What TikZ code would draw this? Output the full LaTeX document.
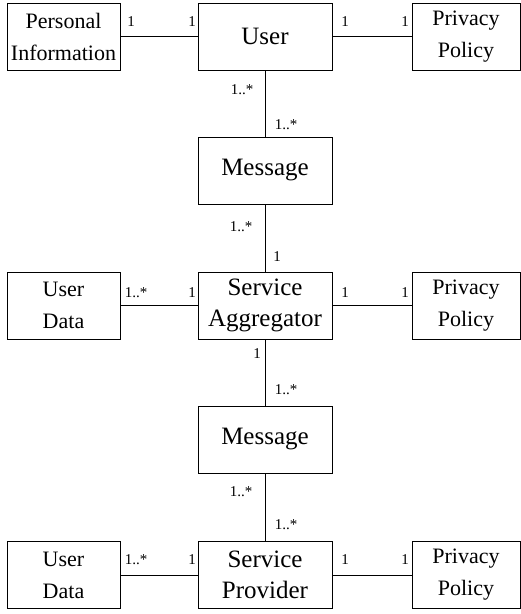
\documentclass[tikz,border=0pt]{standalone}
\usepackage{fontspec}
\setmainfont{Liberation Serif}
\begin{document}
\begin{tikzpicture}[x=1pt,y=-1pt,
  line width=0.9pt,
  mainbox/.style={draw, minimum width=134pt, minimum height=67pt, inner sep=0pt,
    align=center, font=\fontsize{25}{31}\selectfont},
  sidebox/.style={draw, minimum height=67pt, inner sep=0pt,
    align=center, font=\fontsize{22}{32}\selectfont},
  mult/.style={inner sep=0pt, font=\fontsize{15}{18}\selectfont}]
\useasboundingbox (0,0) rectangle (521,614);

% class boxes
\node[sidebox, minimum width=113pt] (pinfo) at (63.5,36.5) {Personal\\Information};
\node[mainbox] (user) at (265,36.5) {User};
\node[sidebox, minimum width=108pt] (pp1) at (466,36.5) {Privacy\\Policy};

\node[mainbox] (msg1) at (265,170.5) {Message};

\node[sidebox, minimum width=113pt] (ud1) at (63.5,305.5) {User\\Data};
\node[mainbox] (agg) at (265,305.5) {Service\\Aggregator};
\node[sidebox, minimum width=108pt] (pp2) at (466,305.5) {Privacy\\Policy};

\node[mainbox] (msg2) at (265,439.5) {Message};

\node[sidebox, minimum width=113pt] (ud2) at (63.5,575) {User\\Data};
\node[mainbox] (prov) at (265,575) {Service\\Provider};
\node[sidebox, minimum width=108pt] (pp3) at (466,575) {Privacy\\Policy};

% associations
\draw (pinfo) -- (user);
\draw (user) -- (pp1);
\draw (user.south) -- (msg1.north);
\draw (msg1.south) -- (agg.north);
\draw (ud1) -- (agg);
\draw (agg) -- (pp2);
\draw (agg.south) -- (msg2.north);
\draw (msg2.south) -- (prov.north);
\draw (ud2) -- (prov);
\draw (prov) -- (pp3);

% multiplicities
\node[mult] (m1) at (131,22) {1};
\node[mult] (m2) at (192,22) {1};
\node[mult] (m3) at (345,22) {1};
\node[mult] (m4) at (405,22) {1};
\node[mult] (m5) at (242,90) {1..*};
\node[mult] (m6) at (286,125) {1..*};

\node[mult] (m7) at (241,227) {1..*};
\node[mult] (m8) at (277,257) {1};
\node[mult] (m9) at (136,293) {1..*};
\node[mult] (m10) at (192,293) {1};
\node[mult] (m11) at (345,293) {1};
\node[mult] (m12) at (405,293) {1};
\node[mult] (m13) at (257,354) {1};

\node[mult] (m14) at (286,390) {1..*};
\node[mult] (m15) at (241,492) {1..*};
\node[mult] (m16) at (286,525) {1..*};
\node[mult] (m17) at (136,560) {1..*};
\node[mult] (m18) at (192,560) {1};
\node[mult] (m19) at (345,560) {1};
\node[mult] (m20) at (405,560) {1};
\end{tikzpicture}
\end{document}
